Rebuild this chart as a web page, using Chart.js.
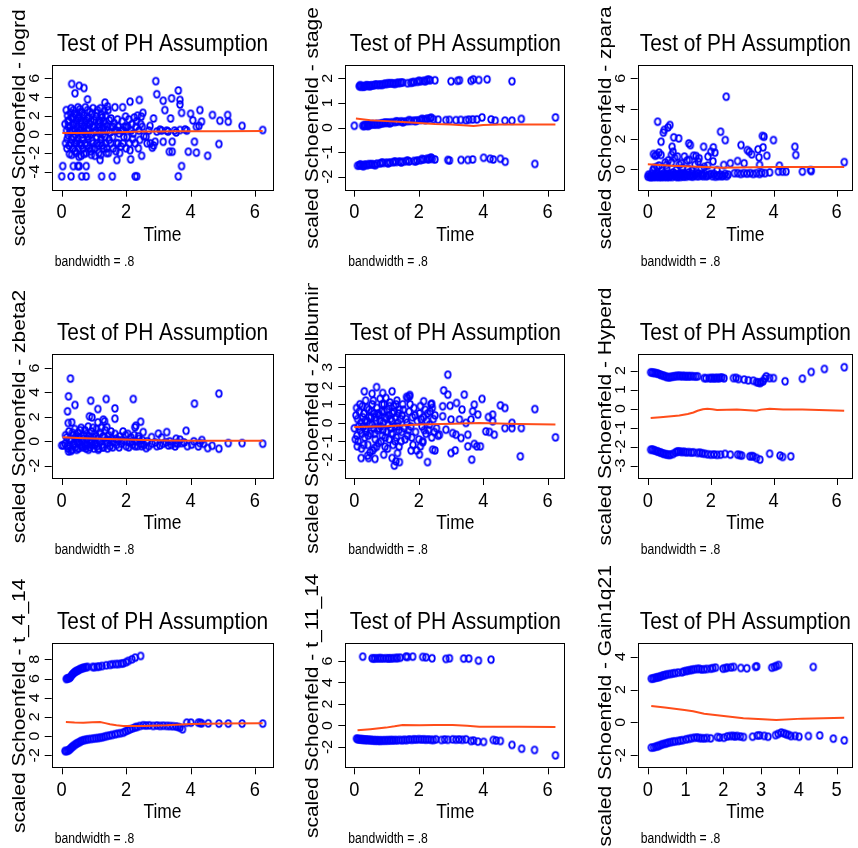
<!DOCTYPE html>
<html>
<head>
<meta charset="utf-8">
<script src="https://cdn.jsdelivr.net/npm/chart.js@4.4.1/dist/chart.umd.min.js"></script>
<style>
  html, body { margin: 0; padding: 0; background: #fff; }
  #grid { position: relative; width: 858px; height: 848px; }
  #grid canvas { position: absolute; }
</style>
</head>
<body>
<div id="grid"></div>
<script>
// ---- data: [time, scaled Schoenfeld residual] ----
const logrdPts = [
  [0.0,-4.5],[0.29,-4.5],[0.62,-4.5],[0.76,-4.5],[1.24,-4.5],[1.57,-4.5],[2.28,-4.5],[2.33,-4.5],[3.62,-4.5],
  [0.03,-3.4],[0.36,-3.4],[0.5,-3.4],[0.54,-3.4],[0.76,-3.4],[3.72,-3.4],
  [0.31,5.4],[0.54,5.2],[0.69,4.96],[0.41,4.4],[0.8,3.75],[2.92,5.7],[2.95,4.3],[3.62,4.7],[3.41,3.86],[3.15,3.6],
  [3.67,3.68],[2.41,3.68],[2.12,3.5],[1.89,2.9],[1.65,2.9],[1.34,3.4],[3.67,3.2],[4.29,2.6],[4.0,2.2],[4.68,2.07],
  [5.15,2.07],[4.34,1.36],[4.91,1.46],[5.17,1.36],[5.6,0.9],[6.24,0.46],[3.2,2.6],[3.38,1.7],[2.85,1.7],[3.72,2.3],
  [4.07,1.5],[4.18,0.8],[4.26,0.9],[3.83,0.53],[3.88,0.4],[3.67,0.46],
  [4.12,-0.8],[4.88,-1.04],[4.53,-2.3],[3.93,-1.86],[4.18,-1.96],[3.34,-1.86],[3.43,-1.86],[2.81,-1.43],[2.9,-0.8],
  [3.15,-0.8],[2.48,-2.3],[2.14,-2.68],[1.71,-2.75],[1.19,-2.75],[2.62,-0.25],[2.74,0.9],[3.43,-0.8],[3.26,0.4],[3.1,0.4],
  [2.7,0.4],[2.95,0.3],[3.05,0.5],[3.3,0.3],[3.5,0.4],[3.55,0.2],[2.65,-0.96],[2.75,-0.96],[2.85,-1.2],
  [0.1,1.1],[0.12,-0.96],[0.15,0.4],[0.16,-1.5],[0.18,2.0],[0.2,-0.1],[0.22,1.5],[0.24,-2.1],[0.25,0.8],[0.27,2.3],
  [0.28,-0.96],[0.3,1.8],[0.3,-0.5],[0.33,0.4],[0.35,-1.5],[0.36,2.6],[0.38,1.1],[0.4,-0.96],[0.42,0.0],[0.43,2.1],
  [0.45,-2.0],[0.46,1.5],[0.48,0.8],[0.5,2.9],[0.5,-0.5],[0.52,-1.5],[0.54,1.9],[0.55,0.4],[0.57,-0.96],[0.58,2.4],
  [0.6,-2.3],[0.62,1.1],[0.64,0.0],[0.66,-1.5],[0.68,2.0],[0.7,0.8],[0.72,-0.96],[0.74,1.5],[0.76,-2.0],[0.78,0.4],
  [0.8,2.6],[0.82,-0.5],[0.84,1.8],[0.86,-1.5],[0.88,1.1],[0.9,0.0],[0.92,-2.2],[0.94,2.2],[0.96,0.8],[0.98,-0.96],
  [1.0,1.5],[1.02,-1.5],[1.05,0.4],[1.08,2.3],[1.1,-0.96],[1.12,1.1],[1.15,-2.0],[1.18,0.8],[1.2,2.8],[1.22,-0.5],
  [1.25,1.8],[1.27,0.0],[1.3,-1.5],[1.32,2.5],[1.35,1.1],[1.37,-0.96],[1.4,0.4],[1.42,3.0],[1.45,-2.0],[1.48,1.5],
  [1.52,-0.96],[1.55,0.8],[1.6,-1.5],[1.65,0.4],[1.7,-0.96],[1.75,0.8],[1.8,-2.0],[1.85,0.4],[1.9,-0.96],[1.95,0.8],
  [2.0,-1.5],[2.05,0.8],[2.08,1.6],[2.1,-0.96],[2.15,0.4],[2.18,1.1],[2.2,-0.5],[2.25,1.8],[2.28,-0.96],[2.3,0.8],
  [2.35,2.0],[2.38,-1.5],[2.4,0.4],[2.45,1.1],[2.5,0.8],[2.52,2.3],[2.55,-0.2],
  [0.2,0.8],[0.4,0.4],[0.6,1.5],[0.8,1.1],[1.0,0.8],[1.2,-0.96],[0.35,1.8],[0.65,-0.5],[0.95,-1.5],[1.3,0.8],
  [0.45,-0.96],[0.75,0.0],[1.15,1.5],[1.4,-1.5],[1.6,0.8],[1.7,0.4],[1.9,0.4],[2.0,0.8],[1.75,-0.96],[1.2,0.4],
  [0.14,2.6],[0.17,-0.5],[0.19,1.4],[0.23,-1.2],[0.26,0.3],[0.29,2.8],[0.31,-2.2],[0.34,1.0],[0.37,-0.3],[0.39,2.2],
  [0.41,-1.8],[0.44,1.2],[0.47,-0.7],[0.49,0.2],[0.51,1.7],[0.53,-2.4],[0.56,2.7],[0.59,0.6],[0.61,-1.2],[0.63,2.3],
  [0.67,0.3],[0.69,-2.1],[0.71,1.3],[0.73,2.9],[0.77,-1.2],[0.79,1.7],[0.81,-0.2],[0.83,0.6],[0.87,2.4],[0.89,-1.8],
  [0.91,1.4],[0.93,-0.7],[0.97,2.8],[0.99,0.2],[1.03,-2.3],[1.06,1.9],[1.09,-0.3],[1.11,2.6],[1.14,-1.2],[1.17,0.1],
  [1.19,1.3],[1.21,-2.2],[1.24,2.1],[1.26,-1.2],[1.29,0.6],[1.31,1.4],[1.34,-0.3],[1.36,2.0],[1.39,-2.0],[1.41,0.9],
  [1.44,2.6],[1.47,-0.6],[1.5,0.2],[1.53,1.7],[1.58,-0.3],[1.63,1.2],[1.68,-1.8],[1.73,1.6],[1.78,0.1],[1.83,-1.3],
  [1.88,1.4],[1.93,-0.3],[1.98,1.9],[2.03,-0.3],[2.12,-1.7],[2.22,0.1],[2.32,1.4],[2.42,-0.6],[2.47,1.9]
];
const logrdSmooth = [[0.02,0.15],[0.5,0.15],[1,0.17],[1.5,0.2],[2,0.25],[2.5,0.3],[3,0.3],[3.5,0.32],[4,0.33],[5,0.34],[6.24,0.35]];

const stagePts = [
  [0.15,1.68],[0.2,1.66],[0.25,1.69],[0.3,1.67],[0.35,1.7],[0.4,1.69],[0.45,1.71],[0.5,1.7],[0.55,1.72],[0.6,1.71],
  [0.7,1.74],[0.75,1.73],[0.8,1.75],[0.9,1.76],[0.95,1.78],[1.0,1.77],[1.1,1.79],[1.15,1.8],[1.2,1.79],[1.3,1.8],
  [1.35,1.82],[1.4,1.81],[1.45,1.83],[1.65,1.8],[1.75,1.82],[1.85,1.85],[1.95,1.86],[2.05,1.88],[2.15,1.9],[2.25,1.93],
  [2.3,1.95],[2.5,1.92],[3.0,1.88],[3.2,1.9],[3.26,1.92],[3.62,1.9],[3.69,1.96],[3.86,1.93],[4.12,1.96],[4.89,1.88],
  [0.18,1.72],[0.28,1.66],[0.38,1.72],[0.48,1.68],[0.65,1.75],[0.85,1.73],[1.05,1.8],[1.25,1.77],[1.5,1.83],[1.8,1.84],
  [2.0,1.9],[2.2,1.88],[2.35,1.92],
  [0.0,0.07],[0.26,0.07],[0.3,0.06],[0.35,0.08],[0.4,0.1],[0.45,0.09],[0.5,0.11],[0.6,0.13],[0.65,0.12],[0.7,0.15],
  [0.8,0.16],[0.85,0.17],[0.9,0.18],[1.0,0.19],[1.05,0.2],[1.15,0.21],[1.25,0.22],[1.35,0.24],[1.45,0.25],[1.55,0.24],
  [1.65,0.26],[1.75,0.27],[1.85,0.28],[1.95,0.29],[2.05,0.31],[2.15,0.33],[2.25,0.36],[2.33,0.37],[2.45,0.34],[2.6,0.32],
  [2.84,0.3],[2.95,0.31],[3.15,0.3],[3.3,0.31],[3.46,0.3],[3.55,0.32],[3.67,0.33],[3.8,0.33],[3.96,0.41],[4.24,0.33],
  [4.37,0.28],[4.67,0.28],[4.89,0.28],[5.18,0.35],[6.24,0.41],
  [0.32,0.1],[0.42,0.06],[0.55,0.14],[0.75,0.12],[0.95,0.2],[1.1,0.17],[1.3,0.25],[1.5,0.21],[1.7,0.3],[1.9,0.26],
  [2.1,0.35],[2.2,0.3],[2.38,0.4],
  [0.1,-1.55],[0.15,-1.54],[0.2,-1.53],[0.25,-1.55],[0.3,-1.52],[0.35,-1.51],[0.4,-1.53],[0.5,-1.5],[0.55,-1.49],[0.6,-1.51],
  [0.7,-1.47],[0.8,-1.46],[0.9,-1.44],[1.0,-1.43],[1.1,-1.42],[1.2,-1.41],[1.3,-1.4],[1.4,-1.38],[1.5,-1.39],[1.6,-1.37],
  [1.7,-1.38],[1.85,-1.36],[1.95,-1.34],[2.05,-1.33],[2.15,-1.3],[2.25,-1.27],[2.33,-1.25],[2.42,-1.28],[2.5,-1.3],[2.9,-1.32],
  [2.95,-1.34],[3.31,-1.32],[3.52,-1.32],[3.67,-1.3],[4.01,-1.23],[4.21,-1.27],[4.31,-1.3],[4.53,-1.27],[4.68,-1.39],[5.6,-1.48],
  [0.18,-1.5],[0.28,-1.57],[0.45,-1.49],[0.65,-1.53],[0.85,-1.42],[1.05,-1.46],[1.25,-1.38],[1.45,-1.42],[1.65,-1.34],[1.9,-1.38],
  [2.1,-1.28],[2.3,-1.3],[2.38,-1.22]
];
const stageSmooth = [[0.05,0.37],[0.5,0.3],[1.0,0.26],[1.5,0.22],[2.0,0.18],[2.5,0.14],[3.0,0.12],[3.5,0.08],[3.7,0.06],[4.0,0.1],[4.5,0.12],[5.0,0.12],[6.24,0.12]];

const zparaPts = [
  [2.49,4.79],[0.31,3.14],[0.7,2.92],[0.64,2.77],[0.52,2.6],[0.49,2.42],[2.31,2.48],[2.46,1.93],[0.82,2.11],[0.98,2.04],
  [3.64,2.2],[3.69,2.15],[3.99,1.93],[2.96,1.6],[4.67,1.49],[4.7,0.95],[3.66,1.45],[1.3,1.71],[1.35,1.6],[1.77,1.49],
  [2.08,1.45],[2.0,1.16],[2.13,1.1],[1.91,0.84],[3.5,1.32],[3.16,1.27],[3.22,1.16],[3.3,0.99],[3.53,0.79],[3.78,0.9],
  [2.85,0.55],[3.06,0.4],[2.41,0.29],[2.62,0.4],[3.55,0.29],[4.18,0.24],[6.24,0.48],[2.07,0.53],[0.42,1.82],[0.18,1.01],
  [0.23,0.9],[0.35,1.1],[0.42,0.95],[0.75,0.95],[0.94,0.84],[1.16,0.84],[1.53,0.88],[1.63,0.73],[1.32,0.62],[0.75,0.46],
  [1.06,0.4],[0.59,0.29],[0.77,1.49],[0.8,1.16],[0.16,-0.05],[0.28,0.16],[1.79,0.16],[1.27,0.05],
  [0.0,-0.48],[0.05,-0.45],[0.1,-0.5],[0.15,-0.4],[0.2,-0.48],[0.25,-0.3],[0.3,-0.45],[0.35,-0.5],[0.4,-0.35],[0.45,-0.48],
  [0.5,-0.25],[0.55,-0.45],[0.6,-0.5],[0.65,-0.3],[0.7,-0.45],[0.75,-0.4],[0.8,-0.2],[0.85,-0.45],[0.9,-0.35],[0.95,-0.48],
  [1.0,-0.3],[1.05,-0.42],[1.1,-0.25],[1.15,-0.45],[1.2,-0.35],[1.25,-0.4],[1.3,-0.2],[1.35,-0.45],[1.4,-0.3],[1.45,-0.42],
  [1.5,-0.35],[1.55,-0.45],[1.6,-0.28],[1.7,-0.4],[1.75,-0.45],[1.8,-0.3],[1.9,-0.42],[1.95,-0.35],[2.05,-0.45],[2.1,-0.3],
  [2.2,-0.4],[2.25,-0.45],[2.3,-0.35],[2.4,-0.42],[2.45,-0.3],[2.5,-0.45],[2.75,-0.25],[2.85,-0.25],[2.95,-0.3],[3.05,-0.25],
  [3.15,-0.28],[3.25,-0.25],[3.35,-0.3],[3.45,-0.25],[3.55,-0.3],[3.62,-0.22],[3.72,-0.25],[3.87,-0.2],[4.15,-0.15],[4.28,-0.15],
  [4.39,-0.15],[4.91,-0.15],[5.19,-0.11],[5.17,-0.05],
  [0.2,0.1],[0.45,-0.1],[0.6,0.05],[0.9,-0.05],[1.1,0.1],[1.4,-0.1],[1.7,0.05],[1.9,0.25],[2.2,-0.05],[0.35,0.25],
  [0.55,0.45],[1.0,0.3],[1.25,0.6],[1.5,0.3],[0.85,0.75],[0.65,0.6],[0.28,0.95],[1.45,0.9],[1.6,0.5],
  [0.02,-0.35],[0.07,-0.5],[0.12,-0.3],[0.17,-0.5],[0.22,-0.35],[0.27,-0.5],[0.32,-0.3],[0.37,-0.42],[0.42,-0.5],[0.47,-0.35],
  [0.52,-0.5],[0.57,-0.3],[0.62,-0.42],[0.67,-0.5],[0.72,-0.3],[0.77,-0.5],[0.82,-0.35],[0.87,-0.3],[0.92,-0.5],[0.97,-0.35],
  [1.02,-0.5],[1.07,-0.3],[1.12,-0.48],[1.17,-0.3],[1.22,-0.48],[1.32,-0.42],[1.42,-0.48],[1.52,-0.25],[1.62,-0.45],[1.72,-0.3],
  [1.85,-0.45],[2.0,-0.3],[2.15,-0.48],[2.35,-0.45],[2.55,-0.35]
];
const zparaSmooth = [[0.0,0.33],[0.75,0.24],[1.79,0.16],[2.31,0.11],[2.83,0.13],[3.87,0.16],[4.91,0.16],[6.24,0.16]];

const zbeta2Pts = [
  [0.27,5.13],[0.21,3.68],[0.41,2.97],[0.9,3.32],[1.38,3.46],[2.22,3.46],[1.12,2.64],[1.65,2.69],[1.65,1.85],[0.18,2.45],
  [0.86,2.04],[0.94,1.96],[0.2,1.49],[0.31,1.55],[1.29,1.77],[1.33,1.63],[2.45,1.6],[2.27,1.14],[2.3,1.27],[1.12,1.55],
  [1.4,1.16],[2.53,0.75],[4.12,3.08],[4.88,3.9],[3.86,0.86],[3.26,0.75],[3.0,0.62],[2.79,0.34],
  [5.17,-0.15],[5.6,-0.15],[6.24,-0.2],[4.88,-0.61],[4.53,-0.56],[4.67,-0.37],[4.29,-0.15],[4.24,-0.42],[4.03,-0.28],[3.72,-0.15],
  [3.67,0.13],[3.52,-0.42],[3.54,-0.15],[3.31,-0.34],[3.24,-0.09],[3.05,-0.34],[2.62,-0.56],[0.05,-0.34],[0.0,-0.34],[0.21,-0.83],
  [0.1,-0.2],[0.15,0.3],[0.2,-0.6],[0.22,0.8],[0.25,-0.3],[0.3,0.1],[0.32,-0.7],[0.35,0.5],[0.38,-0.2],[0.4,1.0],
  [0.42,-0.5],[0.45,0.2],[0.48,-0.1],[0.5,0.7],[0.52,-0.6],[0.55,0.3],[0.58,-0.3],[0.6,1.1],[0.62,0.0],[0.65,-0.5],
  [0.68,0.5],[0.7,-0.2],[0.72,0.9],[0.75,-0.6],[0.78,0.2],[0.8,-0.3],[0.82,1.2],[0.85,0.4],[0.88,-0.5],[0.9,0.0],
  [0.92,0.8],[0.95,-0.3],[0.98,0.3],[1.0,-0.6],[1.02,0.6],[1.05,-0.1],[1.08,1.0],[1.1,-0.4],[1.12,0.2],[1.15,-0.6],
  [1.18,0.7],[1.2,0.0],[1.25,-0.3],[1.28,0.4],[1.3,-0.5],[1.35,0.9],[1.38,0.1],[1.4,-0.2],[1.45,0.5],[1.5,-0.4],
  [1.55,0.2],[1.6,-0.1],[1.65,0.6],[1.7,-0.3],[1.75,0.1],[1.8,0.4],[1.85,-0.2],[1.9,0.8],[1.95,0.0],[2.0,-0.4],
  [2.05,0.6],[2.1,-0.1],[2.15,0.3],[2.2,-0.3],[2.25,0.5],[2.3,0.0],[2.35,-0.4],[2.4,0.2],[2.45,-0.2],[2.5,0.1],
  [2.55,-0.3],[2.65,0.0],[2.7,-0.4],[2.8,-0.2],[2.9,-0.1],[2.95,-0.4],[3.1,0.3],[3.15,-0.2],[3.35,0.0],[3.4,-0.3],
  [3.55,0.2],[3.6,-0.2],[3.8,-0.1],[3.9,-0.4],[4.1,0.0],[4.35,0.1],[4.4,-0.2],
  [0.12,0.5],[0.18,-0.4],[0.24,0.1],[0.28,-0.8],[0.33,0.7],[0.36,-0.3],[0.43,0.4],[0.46,-0.7],[0.53,0.0],[0.57,0.9],
  [0.63,-0.4],[0.66,0.2],[0.73,-0.4],[0.77,0.6],[0.83,-0.7],[0.87,0.1],[0.93,-0.1],[0.97,1.1],[1.03,-0.3],[1.07,0.4],
  [1.13,-0.7],[1.17,0.0],[1.23,1.1],[1.27,-0.5],[1.33,0.3],[1.42,-0.6],[1.48,0.1],[1.53,0.8],[1.58,-0.5],[1.68,0.2],
  [1.78,-0.5],[1.88,0.1],[1.98,0.5],[2.08,-0.5],[2.18,0.0],[2.28,-0.4],[2.38,0.4],[2.48,-0.4]
];
const zbeta2Smooth = [[0.03,0.32],[0.5,0.27],[1.19,0.21],[2.22,0.13],[3.26,0.07],[4.29,0.04],[6.24,0.04]];

const zalbuminPts = [
  [2.9,2.6],[2.77,1.75],[2.9,1.52],[3.41,1.52],[3.96,1.29],[4.53,0.94],[4.67,0.8],[5.6,0.74],[6.24,-0.79],[5.15,-1.82],
  [3.64,-2.0],[2.27,-2.13],[3.0,-1.64],[3.13,-1.5],[3.52,-1.28],[3.72,-1.15],[3.8,-1.28],[3.91,-1.28],[4.08,-0.47],[4.34,-0.65],
  [4.19,-0.5],[4.67,-0.29],[4.89,-0.29],[5.18,-0.29],[4.89,-0.01],[4.29,0.08],[4.16,0.31],[4.29,0.44],[3.83,0.44],[3.67,0.62],
  [3.72,0.98],[3.34,0.71],[3.17,1.07],[2.97,0.92],[2.74,0.35],[3.0,0.17],[3.26,0.17],[3.46,-0.01],[3.62,0.17],[2.84,-0.38],
  [3.05,-0.56],[3.15,-0.65],[3.31,-0.83],[3.52,-0.65],[2.64,-0.65],[0.69,1.93],[0.31,1.7],[0.55,1.57],[1.17,1.7],[0.88,1.61],
  [0.98,1.34],[1.71,1.43],[1.65,1.34],[2.15,1.16],[2.4,1.03],[2.74,0.89],
  [0.21,-1.91],[0.44,-1.91],[0.64,-1.96],[0.41,-1.78],[0.91,-1.73],[1.17,-1.91],[1.24,-2.32],[1.4,-2.13],[1.29,-2.09],[1.34,-1.64],
  [1.76,-1.51],[2.02,-1.73],[2.05,-1.28],[2.12,-1.06],[2.43,-1.46],[2.5,-1.5],[0.09,-1.28],[0.62,-1.37],
  [0.0,-0.3],[0.05,0.4],[0.08,-0.7],[0.1,0.2],[0.12,-1.0],[0.15,0.6],[0.18,-0.4],[0.2,0.0],[0.22,-1.4],[0.25,0.9],
  [0.27,-0.2],[0.3,0.5],[0.32,-0.8],[0.35,1.2],[0.37,-0.5],[0.4,0.1],[0.42,-1.2],[0.45,0.7],[0.47,-0.1],[0.5,-0.6],
  [0.52,0.3],[0.55,1.0],[0.57,-1.5],[0.6,-0.3],[0.62,0.5],[0.65,-0.9],[0.67,0.1],[0.7,0.8],[0.72,-0.4],[0.75,-1.1],
  [0.77,0.4],[0.8,1.3],[0.82,-0.2],[0.85,0.6],[0.87,-0.7],[0.9,0.0],[0.92,1.0],[0.95,-1.3],[0.97,0.3],[1.0,-0.5],
  [1.02,0.7],[1.05,-0.1],[1.08,-0.9],[1.1,1.1],[1.12,0.2],[1.15,-0.6],[1.18,0.5],[1.2,-1.2],[1.22,0.9],[1.25,-0.2],
  [1.28,0.3],[1.3,-0.8],[1.32,1.2],[1.35,0.0],[1.38,-0.4],[1.4,0.7],[1.45,-1.0],[1.48,0.4],[1.5,1.0],[1.55,-0.3],
  [1.6,0.2],[1.62,1.4],[1.65,-0.7],[1.7,0.6],[1.72,1.5],[1.75,-0.2],[1.8,0.3],[1.82,-1.2],[1.85,0.8],[1.9,-0.5],
  [1.95,0.1],[2.0,-0.9],[2.02,0.5],[2.05,0.9],[2.1,-0.2],[2.12,-1.0],[2.15,0.3],[2.2,0.7],[2.22,-0.6],[2.25,0.1],
  [2.3,-0.4],[2.35,0.6],[2.38,1.0],[2.4,-0.8],[2.45,0.2],[2.5,0.4],[2.55,-0.3],[2.6,-0.7],
  [0.03,-0.9],[0.07,0.8],[0.13,-0.2],[0.17,1.0],[0.23,-0.6],[0.26,0.3],[0.29,-1.2],[0.33,0.1],[0.36,-0.3],[0.39,0.8],
  [0.43,-0.7],[0.46,0.3],[0.49,-1.6],[0.53,0.6],[0.56,-0.1],[0.59,1.2],[0.63,-0.6],[0.66,0.3],[0.69,-1.3],[0.73,0.5],
  [0.76,-0.3],[0.79,0.1],[0.83,-1.0],[0.86,1.0],[0.89,-0.4],[0.93,0.6],[0.96,-0.8],[0.99,0.2],[1.03,-1.4],[1.06,0.4],
  [1.09,0.9],[1.13,-0.3],[1.16,0.1],[1.19,-0.6],[1.23,0.6],[1.26,-1.0],[1.29,1.0],[1.33,-0.2],[1.36,0.5],[1.39,-1.3],
  [1.43,0.2],[1.47,-0.5],[1.52,0.7],[1.57,-0.9],[1.63,0.0],[1.68,-0.4],[1.73,1.0],[1.78,-0.8],[1.88,0.4],[1.93,-1.5],
  [2.07,0.2],[2.17,-0.4],[2.27,0.5],[2.33,-0.1],[2.42,0.8],[2.48,-0.5]
];
const zalbuminSmooth = [[0.0,-0.23],[0.98,-0.19],[2.02,-0.1],[3.05,-0.05],[3.88,-0.01],[5.12,-0.07],[6.24,-0.1]];

const hyperdPts = [
  [0.09,1.91],[0.14,1.9],[0.18,1.89],[0.22,1.88],[0.28,1.86],[0.32,1.84],[0.38,1.8],[0.42,1.77],[0.48,1.74],[0.52,1.72],
  [0.58,1.68],[0.62,1.66],[0.68,1.65],[0.72,1.67],[0.78,1.68],[0.82,1.7],[0.88,1.71],[0.92,1.72],[0.98,1.73],[1.02,1.72],
  [1.08,1.71],[1.12,1.72],[1.18,1.71],[1.22,1.7],[1.28,1.71],[1.32,1.7],[1.38,1.71],[1.45,1.7],[1.52,1.69],[1.58,1.7],
  [1.79,1.61],[1.85,1.6],[1.95,1.61],[2.0,1.6],[2.05,1.62],[2.1,1.6],[2.15,1.61],[2.2,1.62],[2.25,1.6],[2.3,1.63],
  [2.35,1.64],[2.42,1.6],[2.72,1.61],[2.8,1.62],[2.88,1.56],[3.06,1.53],[3.19,1.49],[3.35,1.47],[3.45,1.4],[3.5,1.38],
  [3.56,1.35],[3.6,1.4],[3.66,1.44],[3.71,1.58],[3.76,1.7],[3.87,1.61],[3.99,1.61],[4.36,1.44],[4.91,1.58],[5.19,1.93],
  [5.61,2.09],[6.24,2.18],
  [0.09,-2.16],[0.14,-2.15],[0.18,-2.18],[0.22,-2.2],[0.28,-2.24],[0.32,-2.26],[0.38,-2.3],[0.42,-2.32],[0.48,-2.36],[0.52,-2.38],
  [0.58,-2.4],[0.62,-2.42],[0.68,-2.43],[0.72,-2.42],[0.8,-2.38],[0.88,-2.3],[0.92,-2.27],[0.96,-2.25],[1.02,-2.26],[1.08,-2.28],
  [1.15,-2.27],[1.22,-2.3],[1.3,-2.29],[1.38,-2.31],[1.45,-2.3],[1.58,-2.33],[1.65,-2.32],[1.72,-2.35],[1.8,-2.37],[1.9,-2.4],
  [2.0,-2.42],[2.1,-2.41],[2.2,-2.43],[2.31,-2.42],[2.45,-2.38],[2.62,-2.42],[2.85,-2.42],[2.92,-2.44],[2.98,-2.47],[3.24,-2.51],
  [3.3,-2.5],[3.35,-2.51],[3.45,-2.6],[3.56,-2.68],[3.87,-2.37],[4.2,-2.47],[4.28,-2.54],[4.54,-2.51]
];
const hyperdSmooth = [[0.09,-0.49],[0.4,-0.45],[0.75,-0.4],[1.0,-0.36],[1.27,-0.28],[1.45,-0.2],[1.58,-0.11],[1.75,-0.03],[1.89,0.0],[2.05,-0.03],[2.2,-0.07],[2.83,-0.05],[3.2,-0.08],[3.45,-0.11],[3.6,-0.05],[3.87,0.0],[4.3,-0.04],[4.91,-0.05],[6.24,-0.11]];

const t414Pts = [
  [0.14,5.95],[0.17,6.0],[0.2,6.02],[0.23,6.05],[0.26,6.1],[0.29,6.25],[0.32,6.4],[0.35,6.5],[0.38,6.6],[0.41,6.68],
  [0.44,6.75],[0.47,6.8],[0.5,6.85],[0.54,6.92],[0.58,7.0],[0.62,7.05],[0.66,7.1],[0.7,7.13],[0.75,7.17],[0.8,7.2],
  [0.96,7.2],[1.01,7.18],[1.1,7.22],[1.16,7.24],[1.25,7.3],[1.38,7.38],[1.5,7.42],[1.58,7.48],[1.68,7.5],[1.76,7.51],
  [1.85,7.55],[1.91,7.58],[2.0,7.7],[2.07,7.83],[2.18,8.0],[2.28,8.17],[2.45,8.35],
  [0.1,-1.55],[0.14,-1.56],[0.18,-1.52],[0.21,-1.48],[0.24,-1.4],[0.27,-1.3],[0.3,-1.2],[0.33,-1.1],[0.36,-1.03],[0.4,-0.92],
  [0.44,-0.82],[0.48,-0.75],[0.52,-0.68],[0.56,-0.6],[0.6,-0.52],[0.65,-0.46],[0.7,-0.41],[0.76,-0.37],[0.82,-0.33],[0.9,-0.3],
  [0.98,-0.26],[1.05,-0.23],[1.12,-0.2],[1.19,-0.16],[1.26,-0.12],[1.33,-0.06],[1.4,0.01],[1.48,0.06],[1.56,0.12],[1.65,0.19],
  [1.73,0.25],[1.82,0.3],[1.91,0.36],[1.98,0.5],[2.05,0.6],[2.12,0.71],[2.2,0.8],[2.28,0.92],[2.33,0.95],[2.42,1.05],
  [2.53,1.13],[2.62,1.1],[2.72,1.12],[2.84,1.06],[2.95,1.1],[3.05,1.06],[3.15,1.08],[3.26,1.06],[3.35,1.05],[3.45,1.03],
  [3.55,1.0],[3.62,0.95],[3.67,0.88],[3.75,0.71],[3.88,1.4],[4.01,1.4],[4.24,1.4],[4.3,1.38],[4.34,1.33],[4.55,1.33],
  [4.88,1.3],[5.17,1.3],[5.6,1.3],[6.24,1.3]
];
const t414Smooth = [[0.13,1.47],[0.4,1.42],[0.67,1.4],[0.95,1.43],[1.19,1.47],[1.35,1.35],[1.5,1.23],[1.7,1.12],[1.91,1.06],[2.2,1.05],[2.53,1.06],[3.26,1.13],[4.0,1.26],[5.0,1.3],[6.24,1.33]];

const t1114Pts = [
  [0.26,6.4],[0.55,6.25],[0.6,6.22],[0.65,6.25],[0.72,6.24],[0.78,6.26],[0.83,6.25],[0.9,6.24],[0.98,6.25],[1.05,6.23],
  [1.09,6.25],[1.15,6.24],[1.22,6.26],[1.3,6.27],[1.34,6.28],[1.42,6.3],[1.6,6.4],[1.65,6.38],[1.81,6.4],[2.12,6.37],
  [2.22,6.34],[2.41,6.25],[2.84,6.19],[2.95,6.25],[3.39,6.22],[3.55,6.22],[3.85,6.03],[4.24,6.12],
  [0.07,-1.22],[0.1,-1.28],[0.13,-1.25],[0.16,-1.3],[0.19,-1.27],[0.22,-1.32],[0.25,-1.28],[0.28,-1.34],[0.31,-1.3],[0.34,-1.35],
  [0.37,-1.31],[0.4,-1.36],[0.44,-1.32],[0.48,-1.38],[0.52,-1.34],[0.56,-1.4],[0.6,-1.36],[0.64,-1.41],[0.68,-1.37],[0.72,-1.42],
  [0.76,-1.38],[0.8,-1.43],[0.85,-1.38],[0.9,-1.42],[0.95,-1.37],[1.0,-1.41],[1.05,-1.36],[1.1,-1.4],[1.15,-1.35],[1.2,-1.39],
  [1.26,-1.36],[1.32,-1.38],[1.4,-1.35],[1.48,-1.37],[1.55,-1.34],[1.62,-1.36],[1.7,-1.3],[1.78,-1.33],[1.85,-1.29],[1.92,-1.31],
  [2.0,-1.28],[2.08,-1.3],[2.15,-1.29],[2.22,-1.32],[2.3,-1.3],[2.38,-1.33],[2.45,-1.35],[2.53,-1.29],[2.7,-1.35],[2.8,-1.3],
  [2.9,-1.33],[3.05,-1.29],[3.15,-1.32],[3.25,-1.3],[3.35,-1.33],[3.46,-1.29],[3.62,-1.44],[3.7,-1.4],[3.83,-1.5],[4.01,-1.53],
  [4.31,-1.35],[4.4,-1.4],[4.53,-1.44],[4.89,-1.81],[5.19,-2.16],[5.59,-2.28],[6.24,-2.78]
];
const t1114Smooth = [[0.1,-0.45],[0.5,-0.35],[0.98,-0.2],[1.25,-0.08],[1.5,0.05],[2.02,0.02],[2.5,0.04],[3.05,0.05],[3.5,-0.02],[3.88,-0.11],[5.12,-0.11],[6.24,-0.14]];

const gainPts = [
  [0.09,2.66],[0.13,2.67],[0.17,2.7],[0.21,2.72],[0.25,2.74],[0.28,2.76],[0.32,2.78],[0.36,2.82],[0.4,2.85],[0.44,2.87],
  [0.48,2.9],[0.54,2.93],[0.6,2.95],[0.66,2.98],[0.72,3.0],[0.8,3.03],[0.9,3.05],[0.95,3.1],[1.01,3.13],[1.06,3.15],
  [1.12,3.18],[1.17,3.2],[1.23,3.23],[1.3,3.25],[1.36,3.26],[1.42,3.22],[1.49,3.23],[1.56,3.25],[1.66,3.27],[1.72,3.3],
  [1.79,3.33],[1.99,3.27],[2.05,3.3],[2.1,3.33],[2.2,3.35],[2.27,3.37],[2.46,3.31],[2.62,3.29],[2.85,3.38],[2.88,3.41],
  [3.28,3.33],[3.35,3.38],[3.4,3.43],[3.46,3.49],[4.38,3.37],
  [0.09,-1.53],[0.15,-1.52],[0.2,-1.48],[0.25,-1.45],[0.28,-1.43],[0.33,-1.38],[0.38,-1.33],[0.44,-1.3],[0.49,-1.27],[0.54,-1.23],
  [0.6,-1.2],[0.66,-1.17],[0.72,-1.15],[0.8,-1.13],[0.86,-1.1],[0.92,-1.08],[1.01,-1.03],[1.08,-1.0],[1.15,-0.96],[1.23,-0.93],
  [1.3,-0.92],[1.36,-0.95],[1.42,-0.96],[1.49,-0.97],[1.56,-0.95],[1.66,-0.97],[1.84,-0.89],[1.9,-0.92],[2.01,-0.93],[2.1,-0.85],
  [2.18,-0.83],[2.25,-0.82],[2.3,-0.85],[2.36,-0.83],[2.45,-0.86],[2.53,-0.89],[2.77,-0.87],[2.9,-0.8],[2.96,-0.79],[3.08,-0.82],
  [3.18,-0.87],[3.38,-0.77],[3.45,-0.7],[3.53,-0.62],[3.6,-0.66],[3.66,-0.72],[3.72,-0.76],[3.79,-0.83],[3.9,-0.82],[4.0,-0.87],
  [4.25,-0.83],[4.55,-0.79],[4.91,-0.99],[5.2,-1.09]
];
const gainSmooth = [[0.09,1.0],[0.45,0.9],[0.97,0.76],[1.2,0.68],[1.49,0.53],[2.01,0.39],[2.53,0.25],[3.05,0.19],[3.4,0.15],[4.09,0.23],[5.2,0.29]];

// ---- axis ticks ----
const timeTicks = [0, 2, 4, 6];
const timeTicksGain = [0, 1, 2, 3, 4, 5];
const logrdTicks = [-4, -2, 0, 2, 4, 6];
const stageTicks = [-2, -1, 0, 1, 2];
const zparaTicks = [0, 2, 4, 6];
const zbeta2Ticks = [-2, 0, 2, 4, 6];
const zalbuminTicks = [-2, -1, 0, 1, 2, 3];
const hyperdTicks = [-3, -2, -1, 0, 1, 2];
const t414Ticks = [-2, 0, 2, 4, 6, 8];
const t1114Ticks = [-2, 0, 2, 4, 6];
const gainTicks = [-2, 0, 2, 4];

const panels = [
  { name: 'logrd',    pts: logrdPts,    smooth: logrdSmooth,    x: [-0.31, 6.57],  y: [-6.04, 7.43],  xt: timeTicks,     yt: logrdTicks },
  { name: 'stage',    pts: stagePts,    smooth: stageSmooth,    x: [-0.279, 6.546], y: [-2.569, 2.542], xt: timeTicks,   yt: stageTicks },
  { name: 'zpara',    pts: zparaPts,    smooth: zparaSmooth,    x: [-0.322, 6.52], y: [-1.407, 6.879], xt: timeTicks,    yt: zparaTicks },
  { name: 'zbeta2',   pts: zbeta2Pts,   smooth: zbeta2Smooth,   x: [-0.31, 6.57],  y: [-3.092, 7.147], xt: timeTicks,    yt: zbeta2Ticks },
  { name: 'zalbumin', pts: zalbuminPts, smooth: zalbuminSmooth, x: [-0.279, 6.546], y: [-3.047, 3.722], xt: timeTicks,   yt: zalbuminTicks },
  { name: 'Hyperd',   pts: hyperdPts,   smooth: hyperdSmooth,   x: [-0.322, 6.52], y: [-3.702, 2.877], xt: timeTicks,    yt: hyperdTicks },
  { name: 't_4_14',   pts: t414Pts,     smooth: t414Smooth,     x: [-0.31, 6.57],  y: [-3.354, 9.667], xt: timeTicks,    yt: t414Ticks },
  { name: 't_11_14',  pts: t1114Pts,    smooth: t1114Smooth,    x: [-0.279, 6.546], y: [-3.984, 7.643], xt: timeTicks,   yt: t1114Ticks },
  { name: 'Gain1q21', pts: gainPts,     smooth: gainSmooth,     x: [-0.269, 5.433], y: [-2.791, 4.811], xt: timeTicksGain, yt: gainTicks }
];

// ---- layout (plot box edges inside each 286px cell) ----
const cellW = 286, cellH = [283, 283, 282], cellTop = [0, 283, 566];
const boxLeft = [51.7, 59.3, 65.7], boxRight = [273.3, 279.3, 285];
const boxTop = [65, 71, 77.3], boxBottom = [190.7, 196, 202.3];
const squeeze = 0.87; // the figure is horizontally compressed
const FONT = '"Liberation Sans", Arial, Helvetica, sans-serif';

function text(ctx, s, x, y, size, align, vertical) {
  ctx.save();
  ctx.translate(x, y);
  ctx.scale(squeeze, 1);
  if (vertical) ctx.rotate(-Math.PI / 2);
  ctx.font = size + 'px ' + FONT;
  ctx.textAlign = align;
  ctx.textBaseline = 'alphabetic';
  ctx.fillStyle = '#000';
  ctx.fillText(s, 0, 0);
  ctx.restore();
}

// hollow, slightly tall circle (Stata "Oh" marker, squeezed with the figure)
function ring() {
  const c = document.createElement('canvas');
  c.width = 10; c.height = 11;
  const g = c.getContext('2d');
  g.strokeStyle = '#0000ff';
  g.lineWidth = 1.8;
  g.beginPath();
  g.ellipse(5, 5.5, 2.8, 3.3, 0, 0, Math.PI * 2);
  g.stroke();
  return c;
}
const marker = ring();

// draws the frame, ticks and texts from the chart's scales
const stataFrame = {
  id: 'stataFrame',
  afterDraw(chart, args, opts) {
    const ctx = chart.ctx;
    const { left, right, top, bottom } = chart.chartArea;
    const xs = chart.scales.x, ys = chart.scales.y;
    ctx.save();
    ctx.strokeStyle = '#000';
    ctx.lineWidth = 1;
    ctx.strokeRect(Math.round(left) + 0.5, Math.round(top) + 0.5, Math.round(right - left) - 1, Math.round(bottom - top) - 1);
    ctx.beginPath();
    opts.xt.forEach(v => {
      const px = Math.round(xs.getPixelForValue(v)) + 0.5;
      ctx.moveTo(px, bottom); ctx.lineTo(px, bottom + 6);
    });
    opts.yt.forEach(v => {
      const py = Math.round(ys.getPixelForValue(v)) + 0.5;
      ctx.moveTo(left, py); ctx.lineTo(left - 7, py);
    });
    ctx.stroke();
    ctx.restore();

    opts.xt.forEach(v => text(ctx, String(v), xs.getPixelForValue(v), bottom + 27.5, 21, 'center', false));
    opts.yt.forEach(v => text(ctx, String(v), left - 13, ys.getPixelForValue(v), 16, 'center', true));
    const cx = (left + right) / 2;
    text(ctx, 'Test of PH Assumption', cx, top - 14.5, 24, 'center', false);
    text(ctx, 'scaled Schoenfeld - ' + opts.name, left - 27, (top + bottom) / 2, 21, 'center', true);
    text(ctx, 'Time', cx, bottom + 50, 20, 'center', false);
    text(ctx, 'bandwidth = .8', left + 3, bottom + 75, 14, 'left', false);
  }
};

const grid = document.getElementById('grid');
panels.forEach((p, i) => {
  const col = i % 3, row = Math.floor(i / 3);
  const cv = document.createElement('canvas');
  cv.width = cellW; cv.height = cellH[row];
  cv.style.left = (col * cellW) + 'px';
  cv.style.top = cellTop[row] + 'px';
  cv.style.width = cellW + 'px';
  cv.style.height = cellH[row] + 'px';
  grid.appendChild(cv);

  new Chart(cv, {
    type: 'scatter',
    data: {
      datasets: [
        {
          label: 'lowess',
          data: p.smooth.map(([x, y]) => ({ x, y })),
          showLine: true,
          borderColor: '#ff4d1a',
          borderWidth: 2,
          pointRadius: 0,
          order: 0
        },
        {
          label: 'residuals',
          data: p.pts.map(([x, y]) => ({ x, y })),
          pointStyle: marker,
          pointRadius: 4,
          order: 1
        }
      ]
    },
    options: {
      responsive: false,
      animation: false,
      devicePixelRatio: 1,
      layout: {
        padding: {
          left: boxLeft[col],
          right: cellW - boxRight[col],
          top: boxTop[row],
          bottom: cellH[row] - boxBottom[row]
        }
      },
      scales: {
        x: { type: 'linear', display: false, min: p.x[0], max: p.x[1] },
        y: { type: 'linear', display: false, min: p.y[0], max: p.y[1] }
      },
      plugins: {
        legend: { display: false },
        tooltip: { enabled: false },
        stataFrame: { name: p.name, xt: p.xt, yt: p.yt }
      }
    },
    plugins: [stataFrame]
  });
});
</script>
</body>
</html>
